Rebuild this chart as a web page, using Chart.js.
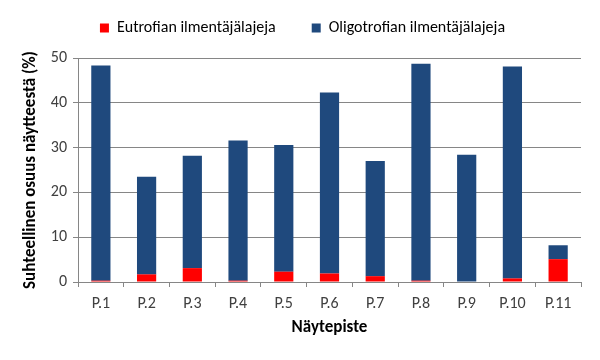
<!DOCTYPE html>
<html>
<head>
<meta charset="utf-8">
<script src="https://cdn.jsdelivr.net/npm/chart.js@4"></script>
<style>
  html, body { margin: 0; padding: 0; background: #ffffff; }
  #wrap { width: 600px; height: 360px; }
</style>
</head>
<body>
<div id="wrap"><canvas id="c" width="600" height="360"></canvas></div>
<script>
const categories = ['P.1', 'P.2', 'P.3', 'P.4', 'P.5', 'P.6', 'P.7', 'P.8', 'P.9', 'P.10', 'P.11'];
const eutrofian = [0.3, 1.7, 3.1, 0.3, 2.3, 1.9, 1.3, 0.3, 0, 0.8, 5.1];
const oligotrofian = [48.0, 21.8, 25.1, 31.3, 28.3, 40.4, 25.7, 48.4, 28.4, 47.3, 3.1];
const seriesNames = ['Eutrofian ilmentäjälajeja', 'Oligotrofian ilmentäjälajeja'];
const yTicks = [0, 10, 20, 30, 40, 50];
const xTitle = 'Näytepiste';
const yTitle = 'Suhteellinen osuus näytteestä (%)';

const FONT = 'Carlito, Lato, "Liberation Sans", sans-serif';

const legendGap = {
  id: 'legendGap',
  beforeInit(chart) {
    const orig = chart.legend.fit;
    chart.legend.fit = function () {
      orig.call(this);
      this.height += 12;
    };
  }
};

new Chart(document.getElementById('c'), {
  type: 'bar',
  data: {
    labels: categories,
    datasets: [
      { label: seriesNames[0], data: eutrofian, backgroundColor: '#ff0000', borderWidth: 0 },
      { label: seriesNames[1], data: oligotrofian, backgroundColor: '#1f497d', borderWidth: 0 }
    ]
  },
  plugins: [legendGap],
  options: {
    responsive: false,
    animation: false,
    devicePixelRatio: 1,
    categoryPercentage: 0.42,
    barPercentage: 1.0,
    layout: { padding: { top: -16, right: 19, left: 24, bottom: 4 } },
    plugins: {
      legend: {
        position: 'top',
        labels: {
          font: { family: FONT, size: 16 },
          color: '#000000',
          boxWidth: 9,
          boxHeight: 9,
          padding: 36
        }
      },
      tooltip: { enabled: false }
    },
    scales: {
      x: {
        stacked: true,
        grid: { display: true, drawOnChartArea: false, offset: true, color: '#868686', tickLength: 5 },
        border: { color: '#868686' },
        ticks: { font: { family: FONT, size: 16 }, color: '#404040', padding: 7, maxRotation: 0 },
        title: { display: true, text: xTitle, font: { family: FONT, size: 17, weight: 'bold' }, color: '#000000', padding: { top: 0, bottom: 18 } },
        afterFit: (s) => { s.height = 74; }
      },
      y: {
        stacked: true,
        min: 0,
        max: 50,
        afterBuildTicks: (s) => { s.ticks = yTicks.map(v => ({ value: v })); },
        grid: { color: '#868686', tickLength: 5 },
        border: { color: '#868686' },
        ticks: { font: { family: FONT, size: 16 }, color: '#404040', padding: 6 },
        title: { display: true, text: yTitle, font: { family: FONT, size: 17, weight: 'bold' }, color: '#000000', padding: { top: -3, bottom: 0 } },
        afterFit: (s) => { s.width = 54; }
      }
    }
  }
});
</script>
</body>
</html>
